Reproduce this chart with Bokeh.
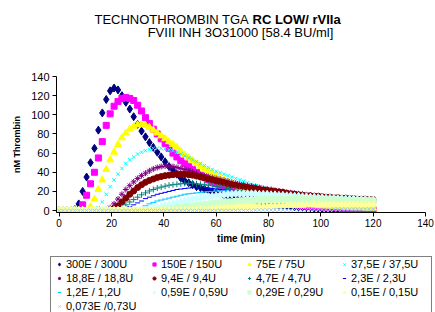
from bokeh.plotting import figure
from bokeh.models import Range1d, FixedTicker, Legend, LegendItem
from bokeh.layouts import column
from bokeh.core.properties import value
from bokeh.embed import file_html
from bokeh.resources import INLINE

# ---------------- data ----------------
time_min = [0, 1.5, 3, 4.5, 6, 7.5, 9, 10.5, 12, 13.5, 15, 16.5, 18, 19.5, 21, 22.5, 24, 25.5, 27, 28.5,
            30, 31.5, 33, 34.5, 36, 37.5, 39, 40.5, 42, 43.5, 45, 46.5, 48, 49.5, 51, 52.5, 54, 55.5, 57, 58.5,
            60, 61.5, 63, 64.5, 66, 67.5, 69, 70.5, 72, 73.5, 75, 76.5, 78, 79.5, 81, 82.5, 84, 85.5, 87, 88.5,
            90, 91.5, 93, 94.5, 96, 97.5, 99, 100.5, 102, 103.5, 105, 106.5, 108, 109.5, 111, 112.5, 114, 115.5,
            117, 118.5, 120]

s300 = [0, 0, 0, 0, 1, 7, 20, 35, 50, 65, 84, 102, 116, 125, 128, 126, 120, 113, 106, 98,
        90, 83, 77, 71, 66, 61, 56, 51, 46, 42, 38, 34, 31, 29, 27, 25, 24, 22.5, 21, 19.5,
        18, 17, 16, 15, 14, 13, 12, 11, 10.5, 10, 9.5, 9, 8, 7.5, 7, 6.5, 6, 5.5, 5, 4.5,
        4, 3.5, 3.5, 3, 3, 2.5, 2.5, 2, 2, 2, 1.5, 1.5, 1.5, 1, 1, 1, 1, 0.5, 0.5, 0.5, 0.5]
s150 = [0, 0, 0, 0, 0, 0, 6, 16, 28, 40, 55, 72, 89, 101, 109, 114, 117, 118, 117, 115,
        110, 104, 97, 91, 85, 80, 75, 70, 65, 60, 56, 52, 49, 46, 43, 40, 37, 35, 32, 30,
        28, 26, 24, 22.5, 21, 19.5, 18, 17, 16, 15, 14, 13, 12, 11, 10, 9.5, 8.5, 8, 7.5, 7,
        6.5, 6, 5.5, 5, 4.5, 4.5, 4, 4, 3.5, 3.5, 3, 3, 2.5, 2.5, 2, 2, 2, 1.5, 1.5, 1.5, 1.5]
s75 = [0, 0, 0, 0, 0, 0, 0, 0, 4, 12, 22, 32, 43, 53, 61, 69, 76, 81, 85, 88,
       89.5, 90, 89, 87, 84, 81, 78, 75, 72, 69, 66, 62, 58, 55, 52, 49, 46, 43.5, 41, 38.5,
       36, 34, 32, 30, 28, 26, 24, 22.5, 21, 19.5, 18, 17, 15.5, 14.5, 13.5, 12.5, 11.5, 10.5, 10, 9,
       8.5, 8, 7.5, 7, 6.5, 6, 5.5, 5, 5, 4.5, 4.5, 4, 4, 3.5, 3.5, 3, 3, 3, 2.5, 2.5, 2.5]
s37_5 = [0, 0, 0, 0, 0, 0, 0, 0, 0, 0, 3, 9, 17, 25, 32, 38, 44, 49, 53, 56,
         59, 61, 62.5, 64, 65, 65, 65, 64.5, 63.5, 62.5, 61, 59, 57, 55, 53, 51, 49, 47, 45, 43,
         41, 39.5, 38, 36.5, 35, 33.5, 32, 30.5, 29, 27.5, 26, 25, 23.5, 22.5, 21, 20, 19, 18, 17, 16,
         15, 14.5, 14, 13, 12.5, 12, 11.5, 11, 10.5, 10, 9.5, 9, 9, 8.5, 8, 8, 7.5, 7.5, 7, 7, 6.5]
s18_8 = [0, 0, 0, 0, 0, 0, 0, 0, 0, 0, 0, 0, 1, 3, 7, 12, 17, 22, 26, 30,
         33.5, 36.5, 39, 41.5, 43.5, 45, 46, 46.5, 46.5, 46, 45, 44, 43, 42, 40.5, 39, 37.5, 36.5, 35.5, 34.5,
         33.5, 32.5, 31.5, 30.5, 29.5, 28.5, 27.5, 27, 26, 25.5, 25, 24, 23, 22.5, 22, 21, 20.5, 20, 19, 18.5,
         18, 17.5, 17, 16.5, 16, 15.5, 15, 14.5, 14, 13.5, 13, 12.5, 12.5, 12, 11.5, 11.5, 11, 11, 10.5, 10.5, 10]
s9_4 = [0, 0, 0, 0, 0, 0, 0, 0, 0, 0, 0, 0, 0, 0, 2, 5, 9, 13, 17, 20.5,
        24, 27, 29.5, 31.5, 33, 34.5, 35.5, 36.5, 37, 37.5, 38, 38, 38, 37.5, 37, 36, 35, 34, 33, 32,
        31, 30, 29, 28, 27, 26.5, 25.5, 25, 24, 23.5, 23, 22, 21.5, 21, 20.5, 20, 19.5, 19, 18, 17.5,
        17, 16.5, 16, 15.5, 15.5, 15, 15, 14.5, 14, 14, 13.5, 13.5, 13, 13, 12.5, 12.5, 12, 12, 12, 11.5, 11.5]
s4_7 = [0, 0, 0, 0, 0, 0, 0, 0, 0, 0, 0, 0, 0, 0, 0, 1, 3, 6, 9, 11.5,
        14, 16.5, 18.5, 20.5, 22, 23.5, 24.5, 25.5, 26.5, 27, 27.5, 28, 28.5, 28.5, 28.5, 28, 27.5, 27, 26.5, 26,
        25, 24.5, 24, 23, 22, 21.5, 21, 20, 19.5, 19, 18.5, 18, 17.5, 17, 16.5, 16, 15.5, 15, 14.5, 14,
        14, 13.5, 13, 13, 12.5, 12, 12, 11.5, 11.5, 11, 11, 10.5, 10.5, 10, 10, 10, 9.5, 9.5, 9, 9, 9]
s2_3 = [0, 0, 0, 0, 0, 0, 0, 0, 0, 0, 0, 0, 0, 0, 0, 0, 1, 2, 4, 6,
        8, 10, 12.5, 14, 15.5, 17, 18, 19, 20, 21, 22, 22.5, 23, 23.5, 24, 24, 24, 24, 23.5, 23,
        22.5, 22, 21.5, 21, 20, 19.5, 19, 18.5, 18, 17.5, 17, 16.5, 16, 15.5, 15, 14.5, 14, 13.5, 13, 13,
        12.5, 12, 12, 11.5, 11, 11, 10.5, 10.5, 10, 10, 9.5, 9.5, 9, 9, 8.5, 8.5, 8, 8, 8, 7.5, 7.5]
s1_2 = [0, 0, 0, 0, 0, 0, 0, 0, 0, 0, 0, 0, 0, 0, 0, 0, 0, 0, 0, 0.5,
        1.5, 3, 5, 7, 8.5, 10, 11, 12, 13, 14, 15, 16, 17, 17.5, 18, 18.5, 19, 19.5, 20, 20,
        20.5, 20.5, 20.5, 20.5, 20, 20, 19.5, 19, 19, 18.5, 18, 17.5, 17, 16.5, 16, 15.5, 15, 14.5, 14, 13.5,
        13, 13, 12.5, 12, 12, 11.5, 11.5, 11, 11, 10.5, 10.5, 10, 10, 10, 9.5, 9.5, 9, 9, 9, 8.5, 8.5]
s0_59 = [0, 0, 0, 0, 0, 0, 0, 0, 0, 0, 0, 0, 0, 0, 0, 0, 0, 0, 0, 0,
         0, 0, 0.5, 1, 2, 3, 4, 5, 6, 7, 8, 9, 10, 11, 12, 12.5, 13.5, 14, 14.5, 15,
         15.5, 16, 16.5, 17, 17, 17.5, 17.5, 17.5, 17.5, 17.5, 17.5, 17, 17, 17, 16.5, 16.5, 16, 16, 15.5, 15.5,
         15, 15, 14.5, 14.5, 14, 14, 13.5, 13.5, 13, 13, 13, 12.5, 12.5, 12, 12, 12, 11.5, 11.5, 11.5, 11, 11]
s0_29 = [0, 0, 0, 0, 0, 0, 0, 0, 0, 0, 0, 0, 0, 0, 0, 0, 0, 0, 0, 0,
         0, 0, 0, 0, 0, 0, 0.5, 1, 1.5, 2, 2.5, 3, 3.5, 4, 4.5, 5, 5.5, 6, 6.5, 7,
         7.5, 8, 8.5, 9, 9, 9.5, 10, 10, 10.5, 10.5, 11, 11, 11, 11.5, 11.5, 11.5, 11.5, 11.5, 11.5, 11.5,
         11.5, 11.5, 11.5, 11.5, 11.5, 11, 11, 11, 11, 11, 11, 11, 10.5, 10.5, 10.5, 10.5, 10.5, 10.5, 10, 10, 10]
s0_15 = [0, 0, 0, 0, 0, 0, 0, 0, 0, 0, 0, 0, 0, 0, 0, 0, 0, 0, 0, 0,
         0, 0, 0, 0, 0, 0, 0, 0, 0, 0, 0, 0, 0, 0, 0.5, 0.5, 1, 1, 1.5, 1.5,
         2, 2, 2.5, 2.5, 3, 3, 3.5, 3.5, 4, 4, 4, 4.5, 4.5, 4.5, 5, 5, 5, 5, 5.5, 5.5,
         5.5, 5.5, 5.5, 6, 6, 6, 6, 6, 6, 6, 6, 6, 6, 6, 6, 6, 6, 6, 6, 6, 6]
s0_073 = [0, 0, 0, 0, 0, 0, 0, 0, 0, 0, 0, 0, 0, 0, 0, 0, 0, 0, 0, 0,
          0, 0, 0, 0, 0, 0, 0, 0, 0, 0, 0, 0, 0, 0, 0, 0, 0, 0, 0, 0,
          0, 0, 0, 0, 0, 0, 0, 0, 0, 0, 0.5, 0.5, 0.5, 0.5, 0.5, 0.5, 0.5, 0.5, 0.5, 0.5,
          1, 1, 1, 1, 1, 1, 1, 1, 1, 1, 1.5, 1.5, 1.5, 1.5, 1.5, 1.5, 1.5, 1.5, 1.5, 1.5, 1.5]

series_labels = ["300E / 300U", "150E / 150U", "75E / 75U", "37,5E / 37,5U",
                 "18,8E / 18,8U", "9,4E / 9,4U", "4,7E / 4,7U", "2,3E / 2,3U",
                 "1,2E / 1,2U", "0,59E / 0,59U", "0,29E / 0,29U", "0,15E / 0,15U",
                 "0,073E /0,73U"]
series_values = [s300, s150, s75, s37_5, s18_8, s9_4, s4_7, s2_3, s1_2, s0_59, s0_29, s0_15, s0_073]

x_ticks = [0, 20, 40, 60, 80, 100, 120, 140]
y_ticks = [0, 20, 40, 60, 80, 100, 120, 140]

title_plain = "TECHNOTHROMBIN TGA"
title_bold = "RC LOW/ rVIIa"
title_line2 = "FVIII INH 3O31000 [58.4 BU/ml]"

# ---------------- styles: (marker, colour, size in chart) ----------------
styles = [
    ("diamond", "#000080", 8), ("square", "#FF00FF", 6), ("triangle", "#FFFF00", 7),
    ("x", "#00FFFF", 5), ("asterisk", "#800080", 6), ("circle", "#800000", 6),
    ("cross", "#008080", 6), ("dash", "#0000FF", 5), ("dash", "#00CCFF", 6),
    ("diamond", "#CCFFFF", 8), ("square", "#CCFFCC", 6), ("triangle", "#FFFF99", 7),
    ("x", "#99CCFF", 5),
]
FONT = "Liberation Sans"
W = 435

# ---------------- title strip ----------------
pt = figure(width=W, height=48, output_backend="svg", toolbar_location=None,
            x_range=Range1d(0, W), y_range=Range1d(0, 48),
            x_axis_location=None, y_axis_location=None, min_border=0, frame_align=False)
pt.outline_line_color = None
pt.grid.visible = False
pt.text(x=[248.5], y=[29], text=[title_plain], text_align="right", text_baseline="middle",
        text_font=value(FONT), text_font_size="13px", text_color="black")
pt.text(x=[252], y=[29], text=[title_bold], text_align="left", text_baseline="middle",
        text_font=value(FONT), text_font_size="13px", text_font_style="bold", text_color="black")
pt.text(x=[240], y=[16], text=[title_line2], text_align="center", text_baseline="middle",
        text_font=value(FONT), text_font_size="13px", text_color="black")

# ---------------- main chart ----------------
p = figure(width=W, height=202, output_backend="svg", toolbar_location=None,
           x_range=Range1d(-1, 140), y_range=Range1d(-2, 140),
           min_border_left=56, min_border_right=10, min_border_top=28, min_border_bottom=38,
           frame_align=False)
p.outline_line_color = None
p.xgrid.visible = False
p.ygrid.visible = False

renderers = []
for vals, (mk, col, sz) in zip(series_values, styles):
    r = p.scatter(x=time_min, y=vals, marker=mk, size=sz, fill_color=col, line_color=col, line_width=1)
    renderers.append(r)

xa = p.xaxis[0]
ya = p.yaxis[0]
xa.ticker = FixedTicker(ticks=x_ticks)
ya.ticker = FixedTicker(ticks=y_ticks)
for ax in (xa, ya):
    ax.axis_line_color = "black"
    ax.major_tick_line_color = "black"
    ax.major_tick_in = 0
    ax.major_tick_out = 4
    ax.minor_tick_line_color = None
    ax.major_label_text_font = FONT
    ax.major_label_text_color = "black"
    ax.axis_label_text_font = FONT
    ax.axis_label_text_font_style = "bold"
    ax.axis_label_text_color = "black"
xa.major_label_text_font_size = "10px"
ya.major_label_text_font_size = "11px"
xa.major_label_standoff = 2
ya.major_label_standoff = 3
xa.axis_label = "time (min)"
ya.axis_label = "nM Thrombin"
xa.axis_label_text_font_size = "10px"
ya.axis_label_text_font_size = "9px"
xa.axis_label_standoff = 3
ya.axis_label_standoff = 6

# ---------------- legend strip ----------------
pl = figure(width=W, height=62, output_backend="svg", toolbar_location=None,
            x_range=Range1d(0, 1), y_range=Range1d(0, 1),
            x_axis_location=None, y_axis_location=None, min_border=0, frame_align=False)
pl.outline_line_color = None
pl.grid.visible = False
nan = float("nan")
leg_renderers = []
for mk, col, sz in styles:
    # legend proxies only: a single undefined point, nothing is drawn in the strip
    leg_renderers.append(pl.scatter(x=[nan], y=[nan], marker=mk, size=sz, fill_color=col,
                                    line_color=col, line_width=1))
legend = Legend(items=[LegendItem(label=l, renderers=[r]) for l, r in zip(series_labels, leg_renderers)],
                location=(50, -2), orientation="horizontal", ncols=4,
                label_text_font=FONT, label_text_font_size="11px", label_text_color="black",
                label_height=12, glyph_height=8, glyph_width=14, label_standoff=0,
                label_width=79, spacing=2, padding=1, margin=0,
                border_line_color="black", border_line_width=1, background_fill_color="white",
                background_fill_alpha=1)
pl.add_layout(legend)

layout = column(pt, p, pl, spacing=0)
open("out.html", "w").write(file_html(layout, INLINE))
